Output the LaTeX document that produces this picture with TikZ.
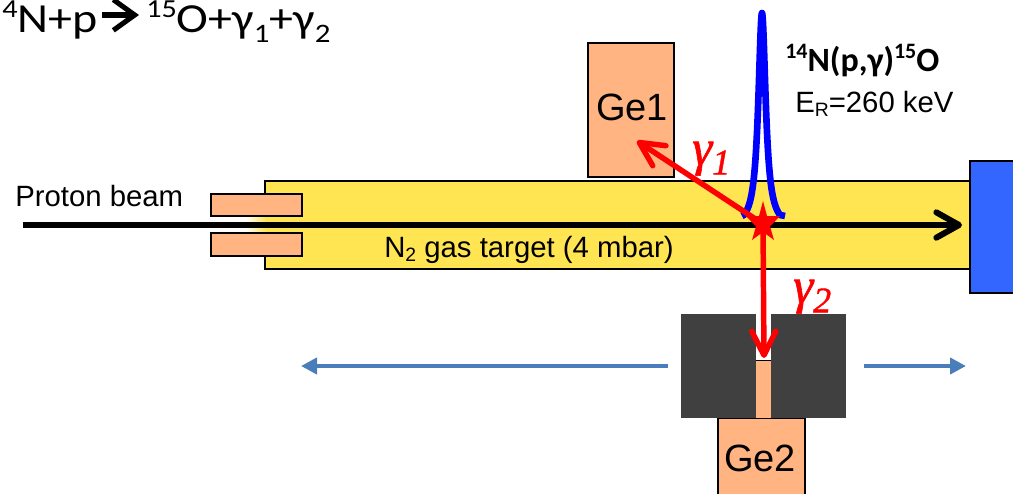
\documentclass[tikz,border=0pt]{standalone}
\usepackage{fontspec}
\usetikzlibrary{arrows.meta,positioning}
\setmainfont{Liberation Sans}
\newfontfamily\calib{Carlito}
\newfontfamily\serifit[ItalicFont={Liberation Serif Italic},ItalicFeatures={FakeBold=1.2}]{Liberation Serif}
\definecolor{peach}{HTML}{FFB482}
\definecolor{gasyellow}{HTML}{FFE552}
\definecolor{blockblue}{HTML}{3366FF}
\definecolor{shield}{HTML}{404040}
\definecolor{steel}{HTML}{4A7EBB}
\newcommand{\tsup}[1]{\raisebox{11.2pt}[0pt][0pt]{\fontsize{19.5}{20}\selectfont #1}}
\newcommand{\tsub}[1]{\raisebox{-8pt}[0pt][0pt]{\fontsize{20}{20}\selectfont #1}}
\newcommand{\bsup}[1]{\raisebox{9.5pt}{\fontsize{16.5}{20}\selectfont #1}}
\newcommand{\gam}[1]{\fontsize{38}{38}\selectfont\serifit\itshape γ\raisebox{-7pt}{\fontsize{27}{27}\selectfont #1}}
\tikzset{
  box/.style 2 args={rectangle,inner sep=0pt,outer sep=0pt,anchor=north west,minimum width=#1*0.75pt,minimum height=#2*0.75pt},
  outl/.style={draw=black,line width=1.2pt},
  label21/.style={font=\fontsize{22}{24}\selectfont,inner sep=0pt,anchor=base west,text=black},
  title/.style={font=\calib\fontsize{31}{32}\selectfont,inner sep=0pt,anchor=base west,text=black},
  gedet/.style={font=\fontsize{28.5}{30}\selectfont,inner sep=0pt,anchor=base west},
  gammalab/.style={inner sep=0pt,anchor=base west,text=red},
  redray/.style={draw=red,line width=4.1pt,-{Straight Barb[length=18pt,width=18pt,line width=4.1pt,round]}},
  beam/.style={draw=black,line width=4.5pt,-{Straight Barb[length=17pt,width=19pt,line width=4.5pt,round]}},
  moveline/.style={draw=steel,line width=3pt,-{Triangle[length=12pt,width=12pt]}},
}
\begin{document}
\begin{tikzpicture}[x=0.75pt,y=-0.75pt]
\useasboundingbox (0,0) rectangle (1013,493);
\clip (0,0) rectangle (1013,493);
% gas tube
\node (tube) [box={705}{88},outl,fill=gasyellow] at (265,181) {};
% fade in the entrance gap
\fill[left color=white,right color=gasyellow,draw=none] (246,217) rectangle (266,233);
% apertures
\node (apt) [box={91}{22},outl,fill=peach] at (211,194) {};
\node (apb) [box={91}{23},outl,fill=peach] at (211,233) {};
% detectors
\node (ge1) [box={86}{134},outl,fill=peach] at (588,43) {};
\node (stop) [box={60}{132},outl,fill=blockblue] at (970,161) {};
\node (ge2) [box={87}{90},outl,fill=peach] at (718,418) {};
\node (neck) [box={15}{57},fill=peach] at (756,361) {};
\coordinate (neckl) at (756,360.5);
\coordinate (neckr) at (771,360.5);
\draw[black,line width=1pt] (neckl) -- (neckr);
\node (shl) [box={75}{104},fill=shield] at (681,314) {};
\node (shr) [box={75}{104},fill=shield] at (771,314) {};
% moving arrows
\coordinate (ml) at (668,366);
\coordinate (mle) at (301,366);
\coordinate (mr) at (864,366);
\coordinate (mre) at (966,366);
\draw[moveline] (ml) -- (mle);
\draw[moveline] (mr) -- (mre);
% beam
\coordinate (bs) at (23,225);
\coordinate (be) at (962,225);
\draw[beam] (bs) -- (be);
% resonance peak
\draw[draw=blue,line width=5pt,line join=round] (742,216) -- plot[domain=-18:18,samples=73,smooth] ({762+\x},{215-202*(1/(1+\x*\x/20)-0.058)/0.942}) -- (785,216);
% gamma rays
\coordinate (src) at (763,224);
\coordinate (g1) at (637,141);
\coordinate (g2) at (764,358);
\draw[redray] (src) -- (g1);
\draw[redray] (src) -- (g2);
% star
\node (star) [inner sep=0pt] at (763,222.5) {};
\fill[red] (763,201)
 -- (767,216) -- (780,216) -- (770,226.5) -- (774,240)
 -- (763,232) -- (752,240) -- (756,226.5) -- (746,216) -- (759,216) -- cycle;
% texts
\node (ttla) [title] at (2,32) {\scalebox{1.16}[1]{\tsup{4}N+p}};
\coordinate (ta) at (102,15);
\coordinate (tb) at (139,15);
\draw[black,line width=3.8pt,-{Straight Barb[length=16pt,width=23pt,line width=3.8pt]}] (ta) -- (tb);
\node (ttlb) [title] at (146,32) {\scalebox{1.16}[1]{\tsup{15}O+γ\tsub{1}+γ\tsub{2}}};
\node (pb) [label21] at (15,206) {Proton beam};
\node (ngas) [label21] at (384,257) {N\raisebox{-3.5pt}{\fontsize{14.5}{16}\selectfont 2} gas target (4 mbar)};
\node (reac) [font=\calib\bfseries\fontsize{25.5}{28}\selectfont,inner sep=0pt,anchor=base west] at (785,71) {\bsup{14}N(p,γ)\bsup{15}O};
\node (er) [label21] at (795,112) {E\raisebox{-3.5pt}{\fontsize{14.5}{16}\selectfont R}=260 keV};
\node (ge1t) [gedet] at (596,120) {Ge1};
\node (ge2t) [gedet] at (724,471) {Ge2};
\node (g1t) [gammalab] at (692,165) {\gam{1}};
\node (g2t) [gammalab] at (793,303) {\gam{2}};
\end{tikzpicture}
\end{document}
